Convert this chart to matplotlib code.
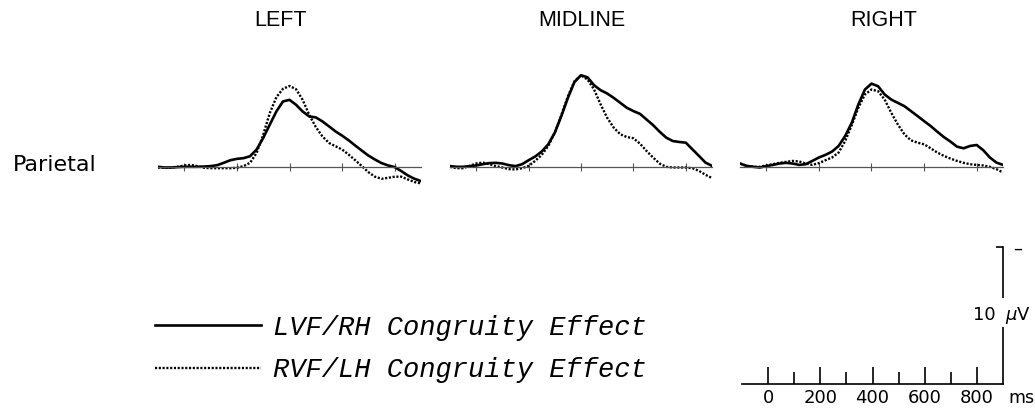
import numpy as np
import matplotlib
matplotlib.use('Agg')
import matplotlib.pyplot as plt
from matplotlib.lines import Line2D
from matplotlib.patches import Rectangle

# time axis (ms), sampled every 25 ms
times = np.arange(-100, 901, 25)

# congruity effect amplitudes (uV); negative is plotted up
left_lvf = [0.0, 0.05, 0.05, 0.02, 0.0, 0.0, 0.0, -0.02, -0.05, -0.12,
            -0.29, -0.48, -0.58, -0.63, -0.77, -1.26, -2.10, -3.07, -4.03, -4.76,
            -4.88, -4.52, -4.03, -3.67, -3.60, -3.31, -2.95, -2.58, -2.27, -1.93,
            -1.55, -1.18, -0.82, -0.53, -0.27, -0.10, 0.02, 0.31, 0.63, 0.87, 1.04]
left_rvf = [0.05, 0.07, 0.05, 0.0, -0.10, -0.14, -0.05, 0.07, 0.10, 0.10,
            0.10, 0.10, 0.07, -0.05, -0.29, -1.01, -2.34, -3.91, -5.07, -5.68,
            -5.89, -5.65, -4.88, -3.79, -2.90, -2.22, -1.74, -1.50, -1.26, -0.89,
            -0.48, -0.05, 0.39, 0.72, 0.87, 0.80, 0.72, 0.72, 0.92, 1.11, 1.21]
mid_lvf = [-0.05, 0.0, 0.0, -0.05, -0.10, -0.19, -0.27, -0.29, -0.24, -0.12,
           -0.05, -0.19, -0.48, -0.75, -1.11, -1.64, -2.49, -3.70, -5.02, -6.18,
           -6.67, -6.52, -5.94, -5.58, -5.34, -5.02, -4.66, -4.30, -4.06, -3.86,
           -3.45, -3.04, -2.56, -2.13, -1.88, -1.81, -1.76, -1.28, -0.80, -0.31, -0.07]
mid_rvf = [0.0, 0.10, 0.10, -0.07, -0.24, -0.31, -0.19, -0.05, 0.05, 0.17,
           0.19, 0.10, -0.07, -0.43, -0.87, -1.52, -2.49, -3.77, -5.14, -6.23,
           -6.67, -6.35, -5.63, -4.54, -3.57, -2.85, -2.37, -2.17, -2.08, -1.69,
           -1.16, -0.68, -0.24, 0.0, 0.05, 0.05, 0.05, 0.10, 0.29, 0.58, 0.82]
right_lvf = [-0.24, -0.07, 0.0, 0.05, -0.05, -0.14, -0.24, -0.29, -0.24, -0.14,
             -0.19, -0.43, -0.68, -0.87, -1.11, -1.52, -2.25, -3.21, -4.54, -5.63,
             -6.06, -5.87, -5.27, -4.90, -4.66, -4.42, -4.06, -3.70, -3.33, -2.97,
             -2.56, -2.17, -1.84, -1.47, -1.35, -1.52, -1.59, -1.21, -0.68, -0.31, -0.14]
right_rvf = [-0.24, -0.07, 0.0, 0.0, -0.10, -0.19, -0.29, -0.36, -0.43, -0.39,
             -0.24, -0.14, -0.27, -0.48, -0.68, -1.04, -1.88, -3.04, -4.30, -5.27,
             -5.63, -5.51, -4.90, -3.94, -3.09, -2.37, -1.93, -1.76, -1.64, -1.35,
             -1.04, -0.80, -0.60, -0.43, -0.29, -0.19, -0.14, -0.10, 0.0, 0.17, 0.41]

titles = ['LEFT', 'MIDLINE', 'RIGHT']
series = [(left_lvf, left_rvf), (mid_lvf, mid_rvf), (right_lvf, right_rvf)]
labels = ['LVF/RH Congruity Effect', 'RVF/LH Congruity Effect']
scale_ticks = [0, 200, 400, 600, 800]
scale_minor = [100, 300, 500, 700]
scale_uv = 10

W, H = 1035, 408
fig = plt.figure(figsize=(W / 100, H / 100), dpi=100)


def px_axes(x0, y0, x1, y1):
    return fig.add_axes([x0 / W, 1 - y1 / H, (x1 - x0) / W, (y1 - y0) / H])


dot_style = dict(color='black', lw=1.7, linestyle=(0, (0.9, 0.7)))
solid_style = dict(color='black', lw=1.9, solid_joinstyle='round')

panel_x = [(158, 421), (450, 712), (740, 1003)]
title_x = [281, 582, 884]
for (x0, x1), tx, title, (lvf, rvf) in zip(panel_x, title_x, titles, series):
    ax = px_axes(x0, 57, x1, 208)
    ax.plot(times, rvf, **dot_style)
    ax.plot(times, lvf, **solid_style)
    ax.set_xlim(-100, 900)
    ax.set_ylim(3, -8)
    for s in ['top', 'left', 'right']:
        ax.spines[s].set_visible(False)
    ax.spines['bottom'].set_position(('data', 0))
    ax.spines['bottom'].set_color('#555555')
    ax.spines['bottom'].set_linewidth(0.9)
    ax.set_xticks(scale_ticks)
    ax.set_xticklabels([])
    ax.tick_params(axis='x', direction='inout', length=6, width=0.8, color='#555555')
    ax.set_yticks([])
    ax.patch.set_visible(False)
    fig.text(tx / W, 1 - 20 / H, title, ha='center', va='center',
             fontsize=15.5, family=['Liberation Sans', 'DejaVu Sans'])

fig.text(13 / W, 1 - 165 / H, 'Parietal', ha='left', va='center',
         fontsize=16, family='DejaVu Sans')

# calibration bar
sax = px_axes(742, 240, 1003, 390)
sax.set_xlim(-100, 900)
sax.set_ylim(0.4, -10.5)
sax.patch.set_visible(False)
sax.spines['top'].set_visible(False)
sax.spines['left'].set_visible(False)
sax.spines['bottom'].set_position(('data', 0))
sax.spines['bottom'].set_bounds(-100, 900)
sax.spines['right'].set_bounds(-scale_uv, 0)
for s in ['bottom', 'right']:
    sax.spines[s].set_linewidth(1.2)
sax.set_xticks(scale_ticks)
sax.set_xticks(scale_minor, minor=True)
sax.set_xticklabels([str(t) for t in scale_ticks], fontsize=13, family='DejaVu Sans')
sax.tick_params(axis='x', which='major', direction='in', length=12, width=1.2, pad=3)
sax.tick_params(axis='x', which='minor', direction='in', length=8.5, width=1.2)
sax.yaxis.set_ticks_position('right')
sax.set_yticks([-scale_uv])
sax.set_yticklabels([])
sax.tick_params(axis='y', direction='in', length=5, width=1.2)
sax.add_patch(Rectangle((850, -6.3), 100, 2.1, transform=sax.transData,
                        facecolor='white', edgecolor='none', zorder=5, clip_on=False))
fig.text(996 / W, 1 - 315 / H, '10', ha='right', va='center', fontsize=13,
         family='DejaVu Sans')
fig.text(1005 / W, 1 - 315 / H, r'$\mu$V', ha='left', va='center', fontsize=13,
         family='DejaVu Sans')
fig.text(1008 / W, 1 - 398 / H, 'ms', ha='left', va='center', fontsize=12.5,
         family='DejaVu Sans')
fig.text(1018 / W, 1 - 249 / H, '\u2013', ha='center', va='center', fontsize=13,
         family='DejaVu Sans')

handles = [Line2D([], [], **solid_style), Line2D([], [], **dot_style)]
fig.legend(handles, labels, loc='center left', bbox_to_anchor=(155 / W, 1 - 349 / H),
           frameon=False, borderpad=0, borderaxespad=0,
           prop=dict(family='Liberation Mono', style='italic', size=19.5),
           handlelength=3.9, handletextpad=0.45, labelspacing=0.6)

fig.savefig('out.png', dpi=100)
